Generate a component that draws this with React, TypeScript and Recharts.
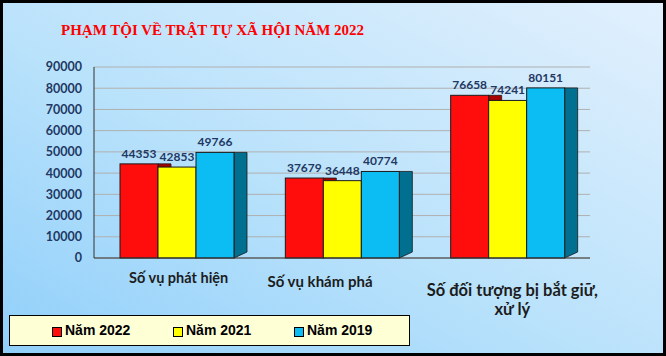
import { Bar, BarChart, CartesianGrid, LabelList, XAxis, YAxis } from "recharts";

const CATEGORIES = ["Số vụ phát hiện", "Số vụ khám phá", "Số đối tượng bị bắt giữ,\nxử lý"];
const NAM_2022 = [44353, 37679, 76658];
const NAM_2021 = [42853, 36448, 74241];
const NAM_2019 = [49766, 40774, 80151];
const Y_TICKS = [0, 10000, 20000, 30000, 40000, 50000, 60000, 70000, 80000, 90000];

const SERIES = [
  { key: "n2022", name: "Năm 2022", front: "#ff0d0d", side: "#a80000" },
  { key: "n2021", name: "Năm 2021", front: "#ffff00", side: "#9a9a00" },
  { key: "n2019", name: "Năm 2019", front: "#0cbdf3", side: "#016f8f" },
];

const data = CATEGORIES.map((name, i) => ({
  name,
  n2022: NAM_2022[i],
  n2021: NAM_2021[i],
  n2019: NAM_2019[i],
}));

// nudges (dx, dy, font size) so the category labels sit roughly where the 3D original puts them
const TICK_SHIFT = [
  [2, 3, 14.5],
  [-22, 7, 15],
  [5, 16, 16.5],
];

function Bar3D(props: any) {
  const { x, y, width, height, fill, side } = props;
  if (!height || height <= 0) return null;
  const d = 13;
  return (
    <g>
      <path
        d={`M${x + width},${y} L${x + width + d},${y} L${x + width + d},${y + height - 6} L${x + width},${y + height} Z`}
        fill={side}
        stroke="#1a1a1a"
        strokeWidth={0.8}
      />
      <rect x={x} y={y} width={width} height={height} fill={fill} stroke="#1a1a1a" strokeWidth={1} />
    </g>
  );
}

function CategoryTick(props: any) {
  const { x, y, payload, index } = props;
  const [dx, dy, fs] = TICK_SHIFT[index] || [0, 0, 14];
  const lines = String(payload.value).split("\n");
  return (
    <text
      x={x + dx}
      y={y + 14 + dy}
      textAnchor="middle"
      fill="#1c1c1c"
      fontFamily="Lato, sans-serif"
      fontWeight={700}
      fontSize={fs}
    >
      {lines.map((l, i) => (
        <tspan key={i} x={x + dx} dy={i === 0 ? 0 : 19}>
          {l}
        </tspan>
      ))}
    </text>
  );
}

export default function App() {
  return (
    <div
      style={{
        position: "absolute",
        left: 0,
        top: 0,
        width: 666,
        height: 356,
        background: "linear-gradient(to top right, #90cffa 0%, #b9e2fb 45%, #e2f0fd 100%)",
        overflow: "hidden",
      }}
    >
      <div
        style={{
          position: "absolute",
          left: 61,
          top: 22,
          color: "#ff0000",
          fontFamily: "'Liberation Serif', 'Times New Roman', serif",
          fontWeight: 700,
          fontSize: 15,
          whiteSpace: "nowrap",
        }}
      >
        PHẠM TỘI VỀ TRẬT TỰ XÃ HỘI NĂM 2022
      </div>

      <div style={{ position: "absolute", left: 0, top: 0 }}>
        <BarChart
          width={666}
          height={356}
          data={data}
          margin={{ top: 67, right: 76, bottom: 68, left: 34 }}
          barGap={0}
          barSize={38}
        >
          <CartesianGrid vertical={false} stroke="#b0b0b0" />
          <XAxis
            dataKey="name"
            height={30}
            axisLine={{ stroke: "#333" }}
            tickLine={false}
            interval={0}
            tick={<CategoryTick />}
          />
          <YAxis
            width={60}
            domain={[0, 90000]}
            ticks={Y_TICKS}
            interval={0}
            axisLine={{ stroke: "#333" }}
            tickLine={false}
            tickMargin={6}
            tick={{ fill: "#1f3864", fontFamily: "Lato, sans-serif", fontWeight: 700, fontSize: 12.5 }}
          />
          {SERIES.map((s) => (
            <Bar
              key={s.key}
              dataKey={s.key}
              name={s.name}
              fill={s.front}
              isAnimationActive={false}
              shape={(p: any) => <Bar3D {...p} side={s.side} />}
            >
              <LabelList
                dataKey={s.key}
                position="top"
                offset={6}
                fill="#1f3864"
                fontFamily="Lato, sans-serif"
                fontWeight={700}
                fontSize={12}
              />
            </Bar>
          ))}
        </BarChart>
      </div>

      <div
        style={{
          position: "absolute",
          left: 9,
          top: 315,
          width: 401,
          height: 31,
          boxSizing: "border-box",
          border: "1.5px solid #000",
          background: "#ffffd6",
        }}
      >
        {SERIES.map((s, i) => (
          <div
            key={s.key}
            style={{
              position: "absolute",
              left: 42 + i * 121,
              top: 6,
              display: "flex",
              alignItems: "center",
              fontFamily: "'Liberation Sans', Arial, sans-serif",
              fontWeight: 700,
              fontSize: 14,
              color: "#000",
              whiteSpace: "nowrap",
            }}
          >
            <span
              style={{
                display: "inline-block",
                width: 8,
                height: 8,
                background: s.front,
                border: "1px solid #000",
                marginRight: 3,
                marginTop: 3,
              }}
            />
            {s.name}
          </div>
        ))}
      </div>

      <div
        style={{
          position: "absolute",
          left: 0,
          top: 0,
          width: 666,
          height: 356,
          boxSizing: "border-box",
          border: "3px solid #000",
          pointerEvents: "none",
        }}
      />
    </div>
  );
}
